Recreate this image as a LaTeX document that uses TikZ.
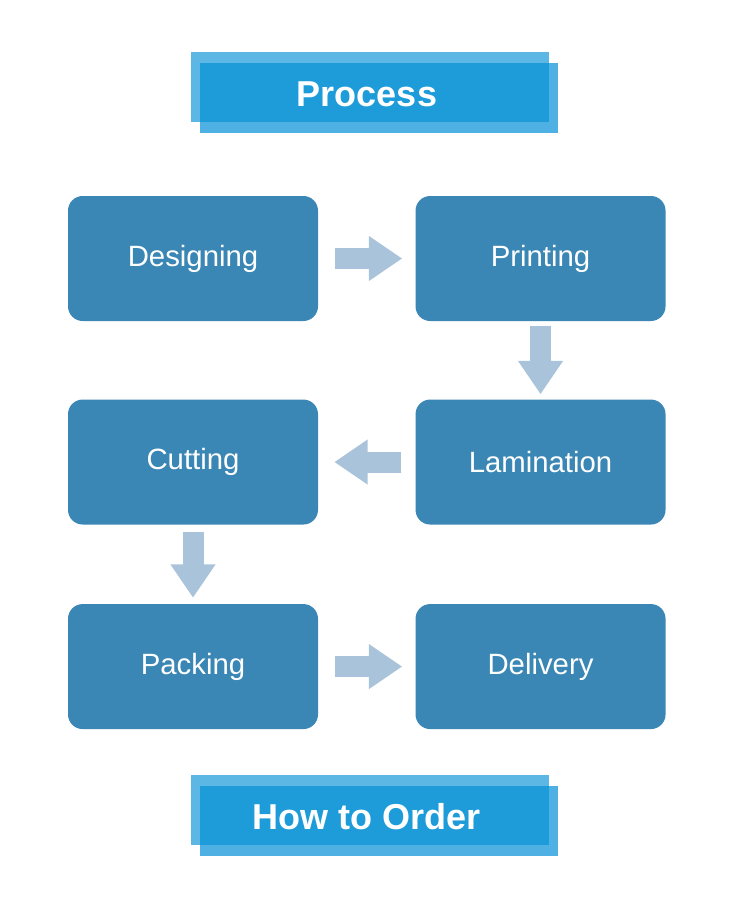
\documentclass[tikz,border=0pt]{standalone}
\usepackage{fontspec}
\setmainfont{Liberation Sans}
\usetikzlibrary{arrows.meta, % for the block arrows
                positioning}

\definecolor{boxblue}{HTML}{3A86B4}
\definecolor{arrowblue}{HTML}{A9C4DA}
\definecolor{titledark}{HTML}{1E9CDA}
\definecolor{titlelight}{HTML}{5CB7E4}
\definecolor{titlefront}{HTML}{4FB1E3}

\begin{document}
\begin{tikzpicture}[x=0.75pt, y=-0.75pt,
                    Step/.style={fill=boxblue, rounded corners=11pt, minimum width=187.5pt,
                                 minimum height=93.75pt, text=white, font=\fontsize{22}{26}\selectfont},
                    Flow/.style={draw=arrowblue, line width=15.75pt, -{Triangle[length=25pt, width=32pt]}},
                    Title/.style={text=white, font=\bfseries\fontsize{27}{32}\selectfont}
                    ]
    \useasboundingbox (0,0) rectangle (750,900);

    % TITLES %
    \foreach \y/\t/\n in {52/Process/Proc, 775/How to Order/Ord}{
    \fill[titlelight] (191,\y) rectangle (549,\y+70);
    \fill[titlefront] (200,\y+11) rectangle (558,\y+81);
    \fill[titledark] (200,\y+11) rectangle (549,\y+70);
    \node[Title] (\n) at (367,\y+42) {\t};
    }

    % STEPS %
    \node[Step] at (193,258.5) (Des) {Designing};
    \node[Step, right=72.75pt of Des] (Prn) {Printing};
    \node[Step, below=58.5pt of Prn] (Lam) {Lamination};
    \node[Step, left=72.75pt of Lam] (Cut) {Cutting};
    \node[Step, below=59.25pt of Cut] (Pck) {Packing};
    \node[Step, right=72.75pt of Pck] (Dlv) {Delivery};

    % ARROWS %
    \foreach \a/\b/\s/\e in {Des/Prn/12.75/9.75, Prn/Lam/3.75/3.75, Lam/Cut/10.5/12,
                             Cut/Pck/5.25/4.5, Pck/Dlv/12.75/9.75}{
    \draw[Flow, shorten <=\s pt, shorten >=\e pt] (\a) -- (\b);
    }

\end{tikzpicture}
\end{document}
